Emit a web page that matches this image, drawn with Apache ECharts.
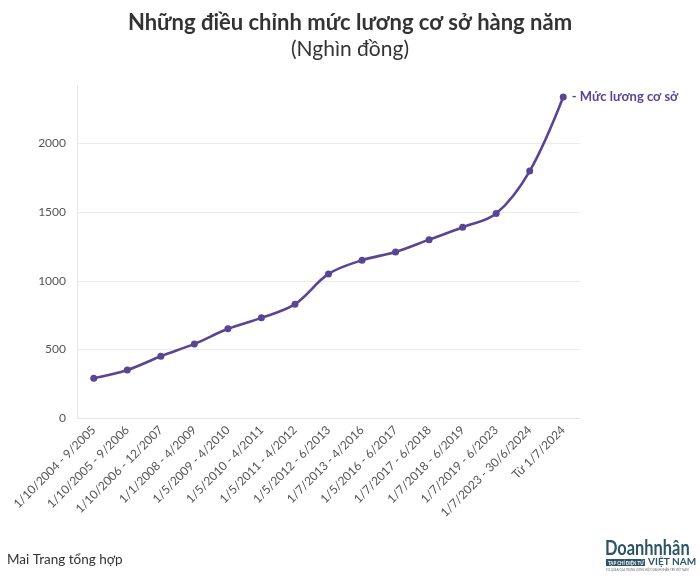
<!DOCTYPE html>
<html>
<head>
<meta charset="utf-8">
<script src="https://cdn.jsdelivr.net/npm/echarts@6/dist/echarts.min.js"></script>
<style>
html,body{margin:0;padding:0;background:#fff;}
#c{width:700px;height:587px;}
</style>
</head>
<body>
<div id="c"></div>
<script>
const categories = ["1/10/2004 - 9/2005","1/10/2005 - 9/2006","1/10/2006 - 12/2007","1/1/2008 - 4/2009","1/5/2009 - 4/2010","1/5/2010 - 4/2011","1/5/2011 - 4/2012","1/5/2012 - 6/2013","1/7/2013 - 4/2016","1/5/2016 - 6/2017","1/7/2017 - 6/2018","1/7/2018 - 6/2019","1/7/2019 - 6/2023","1/7/2023 - 30/6/2024","Từ 1/7/2024"];
const salary = [290,350,450,540,650,730,830,1050,1150,1210,1300,1390,1490,1800,2340];
const seriesName = "Mức lương cơ sở";
const yTicks = [0,500,1000,1500,2000];

const FONT = 'Lato, "Noto Sans", sans-serif';
const chart = echarts.init(document.getElementById('c'));
const last = salary.length - 1;
chart.setOption({
  animation:false,
  textStyle:{fontFamily:FONT},
  title:{
    text:"Những điều chỉnh mức lương cơ sở hàng năm",
    subtext:"(Nghìn đồng)",
    left:'center', top:7, itemGap:5,
    textStyle:{fontFamily:FONT,fontSize:22,fontWeight:'bold',color:'#333'},
    subtextStyle:{fontFamily:FONT,fontSize:21,color:'#333'}
  },
  grid:{left:77,right:120,top:86,bottom:169,containLabel:false},
  xAxis:{
    type:'category', data:categories, boundaryGap:true,
    axisLine:{lineStyle:{color:'#e6e6e6'}},
    axisTick:{alignWithLabel:true,length:6,lineStyle:{color:'#e0e0e0'}},
    axisLabel:{rotate:45,interval:0,color:'#555',fontSize:12,fontFamily:FONT,margin:10}
  },
  yAxis:{
    type:'value', min:0, max:2420, interval:500,
    axisLine:{show:true,lineStyle:{color:'#e6e6e6'}},
    axisTick:{show:false},
    axisLabel:{color:'#555',fontSize:12,fontFamily:FONT,margin:11,
      formatter:v=> yTicks.includes(v)? String(v):''},
    splitLine:{lineStyle:{color:['#ebebeb','#ebebeb','#ebebeb','#ebebeb','#ebebeb','rgba(0,0,0,0)']}}
  },
  series:[{
    name:seriesName, type:'line', data:salary,
    smooth:0.35,
    symbol:'circle', symbolSize:7,
    lineStyle:{color:'#5a4594',width:2.6},
    itemStyle:{color:'#5a4594'},
    label:{show:true,position:'right',distance:5,
      formatter:p=> p.dataIndex===last ? '- '+seriesName : '',
      color:'#5a4594',fontWeight:'bold',fontSize:13,fontFamily:FONT}
  }],
  graphic:[
    {type:'text',left:7,top:553,style:{text:'Mai Trang tổng hợp',fill:'#333',font:'13.5px '+FONT}},
    {type:'text',x:605,y:539,scaleX:0.82,style:{text:'Doanhnhân',fill:'#2d5566',font:'bold 20px '+FONT}},
    {type:'rect',shape:{x:606,y:559,width:39,height:7},style:{fill:'#2d5566'}},
    {type:'text',x:608,y:560,scaleX:0.8,style:{text:'TẠP CHÍ ĐIỆN TỬ',fill:'#fff',font:'bold 5.5px '+FONT}},
    {type:'text',x:648,y:557,style:{text:'VIỆT NAM',fill:'#2d5566',font:'bold 10px '+FONT}},
    {type:'text',x:606,y:569,scaleX:0.9,style:{text:'CƠ QUAN CỦA TRUNG ƯƠNG HỘI DOANH NHÂN TRẺ VIỆT NAM',fill:'#667',font:'3px '+FONT}}
  ]
});
</script>
</body>
</html>
